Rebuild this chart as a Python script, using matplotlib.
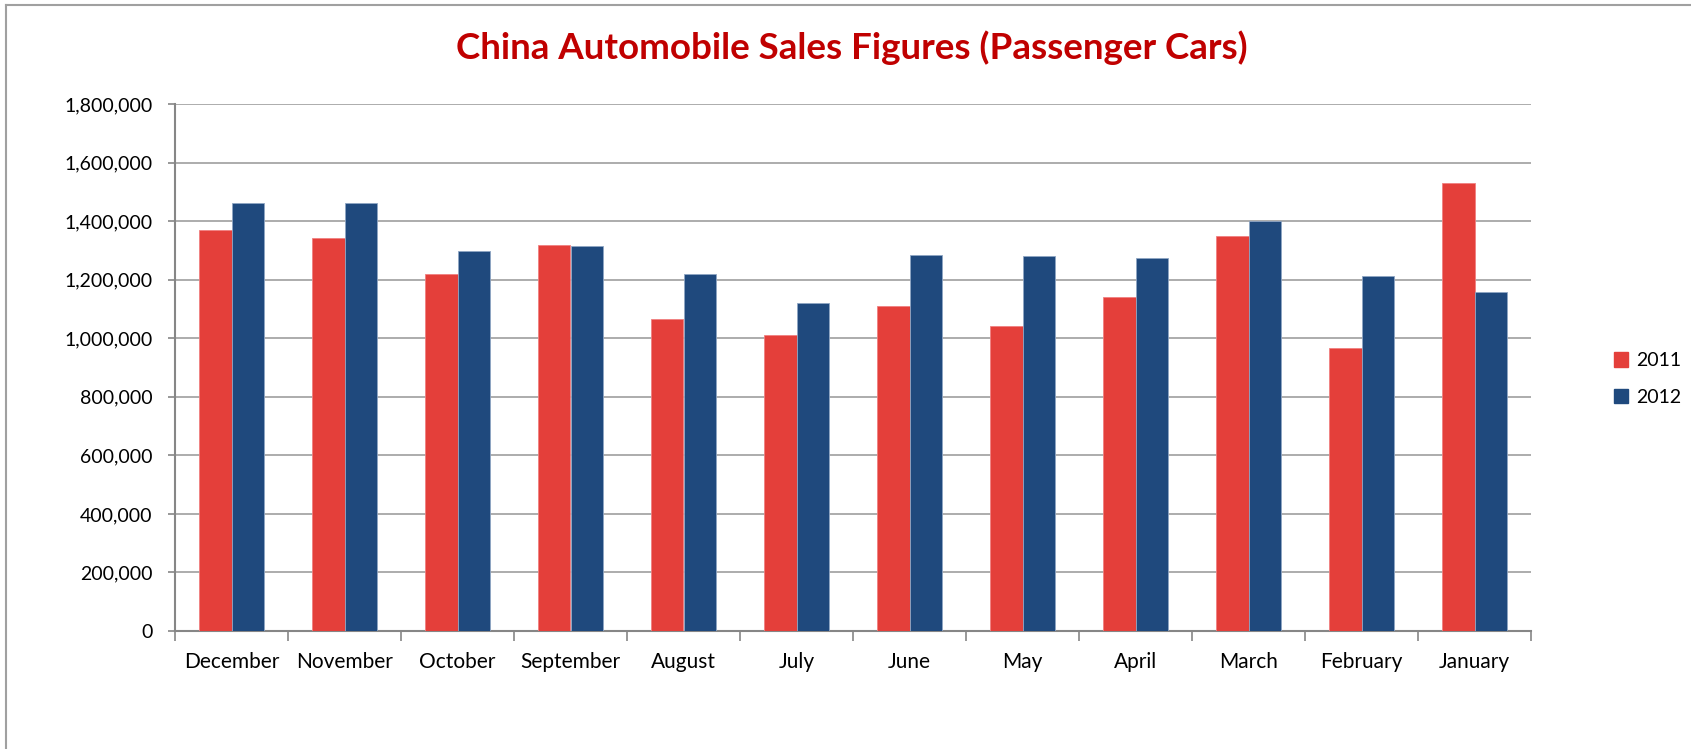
import numpy as np
import matplotlib
matplotlib.use('Agg')
import matplotlib.pyplot as plt
from matplotlib.ticker import FuncFormatter
from matplotlib.lines import Line2D
from matplotlib.patches import Patch

months = ['December', 'November', 'October', 'September', 'August', 'July',
          'June', 'May', 'April', 'March', 'February', 'January']
sales_2011 = [1368000, 1343000, 1221000, 1319000, 1067000, 1010000,
              1109000, 1041000, 1142000, 1348000, 967000, 1529000]
sales_2012 = [1462000, 1462000, 1298000, 1315000, 1219000, 1120000,
              1284000, 1282000, 1275000, 1400000, 1211000, 1158000]
series_names = ['2011', '2012']

red = '#E43F3A'
blue = '#1F497D'
axis_grey = '#868686'
grid_grey = '#A6A6A6'

plt.rcParams['font.family'] = ['Lato', 'DejaVu Sans']

W, H = 1691, 749
fig = plt.figure(figsize=(W / 100, H / 100), dpi=100)
ax = fig.add_axes([175 / W, 1 - 631 / H, (1531 - 175) / W, (631 - 104) / H])

x = np.arange(len(months))
bw = 0.288
ax.bar(x - bw / 2, sales_2011, bw, color=red, edgecolor='#F08080', linewidth=0.6, zorder=3)
ax.bar(x + bw / 2, sales_2012, bw, color=blue, edgecolor='#8FA6C4', linewidth=0.6, zorder=3)

ax.set_xlim(-0.5, len(months) - 0.5)
ax.set_ylim(0, 1800000)
ax.set_yticks(np.arange(0, 1800001, 200000))
ax.yaxis.set_major_formatter(FuncFormatter(lambda v, p: f'{int(v):,}'))
ax.grid(axis='y', color=grid_grey, linewidth=1.3, zorder=0)

# tick marks sit between categories, labels in the middle
ax.set_xticks(np.arange(-0.5, len(months), 1))
ax.set_xticklabels([])
ax.set_xticks(x, minor=True)
ax.set_xticklabels(months, minor=True)
ax.tick_params(axis='x', which='major', length=7, width=1.2, color=axis_grey)
ax.tick_params(axis='x', which='minor', length=0, pad=15, labelsize=15)
ax.tick_params(axis='y', length=5, width=1.2, color=axis_grey, pad=11, labelsize=14)

for side in ['top', 'right']:
    ax.spines[side].set_visible(False)
for side in ['left', 'bottom']:
    ax.spines[side].set_color(axis_grey)
    ax.spines[side].set_linewidth(1.5)

fig.text(852 / W, 1 - 48 / H, 'China Automobile Sales Figures (Passenger Cars)',
         ha='center', va='center', color='#C00000', fontsize=26.5, fontweight='bold')

handles = [Patch(color=red), Patch(color=blue)]
fig.legend(handles, series_names, loc='center left', frameon=False,
           bbox_to_anchor=(1596 / W, 1 - 379 / H), fontsize=14,
           handlelength=0.75, handleheight=0.75, handletextpad=0.4, labelspacing=1.0)

# chart frame (only top and left edge visible in the crop)
fig.add_artist(Line2D([6 / W, 6 / W], [0, 1 - 5 / H], color='#A0A0A0', linewidth=1.5))
fig.add_artist(Line2D([6 / W, 1], [1 - 5 / H, 1 - 5 / H], color='#A0A0A0', linewidth=1.5))

fig.savefig('out.png', dpi=100)
